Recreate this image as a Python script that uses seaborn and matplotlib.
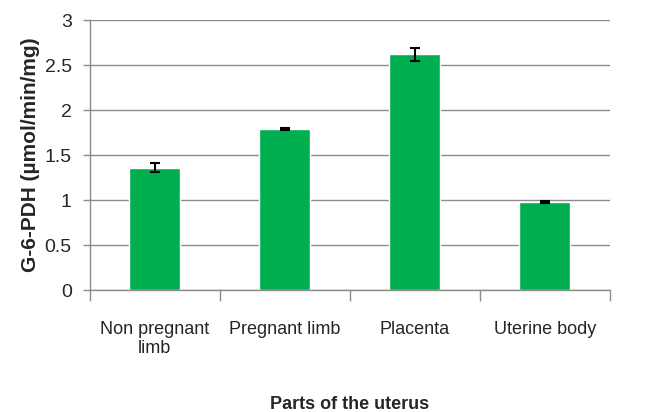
import matplotlib
matplotlib.use("Agg")
import matplotlib.pyplot as plt
import seaborn as sns
import pandas as pd
from matplotlib.ticker import FixedLocator

# Datos
partes = ["Non pregnant\nlimb", "Pregnant limb", "Placenta", "Uterine body"]
actividad = [1.36, 1.79, 2.62, 0.98]
error = [0.05, 0.01, 0.07, 0.015]

df = pd.DataFrame({"parte": partes, "actividad": actividad})

sns.set_style("white")
plt.rcParams["font.family"] = ["Liberation Sans Narrow", "Liberation Sans", "DejaVu Sans"]

fig = plt.figure(figsize=(6.55, 4.12), dpi=100)
ax = fig.add_axes([0.137, 0.296, 0.794, 0.655])

sns.barplot(data=df, x="parte", y="actividad", color="#00AD4F", width=0.39,
            saturation=1, ax=ax, zorder=2)
ax.errorbar(range(len(partes)), actividad, yerr=error, fmt="none",
            ecolor="black", elinewidth=1.5, capsize=3.5, capthick=1.5, zorder=3)

ax.set_xlim(-0.5, len(partes) - 0.5)
ax.set_ylim(0, 3)
ax.set_yticks([0, 0.5, 1, 1.5, 2, 2.5, 3])
ax.set_yticklabels(["0", "0.5", "1", "1.5", "2", "2.5", "3"])
ax.yaxis.grid(True, color="#8c8c8c", linewidth=1)
ax.set_axisbelow(True)

# marcas entre categorias como en Excel
ax.xaxis.set_minor_locator(FixedLocator([i - 0.5 for i in range(len(partes) + 1)]))
ax.tick_params(axis="x", which="major", length=0, pad=22, labelsize=13)
ax.tick_params(axis="x", which="minor", length=8, width=1, color="#8c8c8c", direction="out")
ax.tick_params(axis="y", length=5, width=1, color="#8c8c8c", direction="out", labelsize=14, pad=8)
ax.xaxis.set_tick_params(which="both", bottom=True)
ax.yaxis.set_tick_params(left=True)

for s in ["top", "right"]:
    ax.spines[s].set_visible(False)
for s in ["left", "bottom"]:
    ax.spines[s].set_color("#8c8c8c")
    ax.spines[s].set_linewidth(1)

ax.set_ylabel("G-6-PDH (µmol/min/mg)", fontsize=15, fontweight="bold", labelpad=3)
ax.set_xlabel("Parts of the uterus", fontsize=13, fontweight="bold", labelpad=28)

fig.savefig("out.png", dpi=100)
